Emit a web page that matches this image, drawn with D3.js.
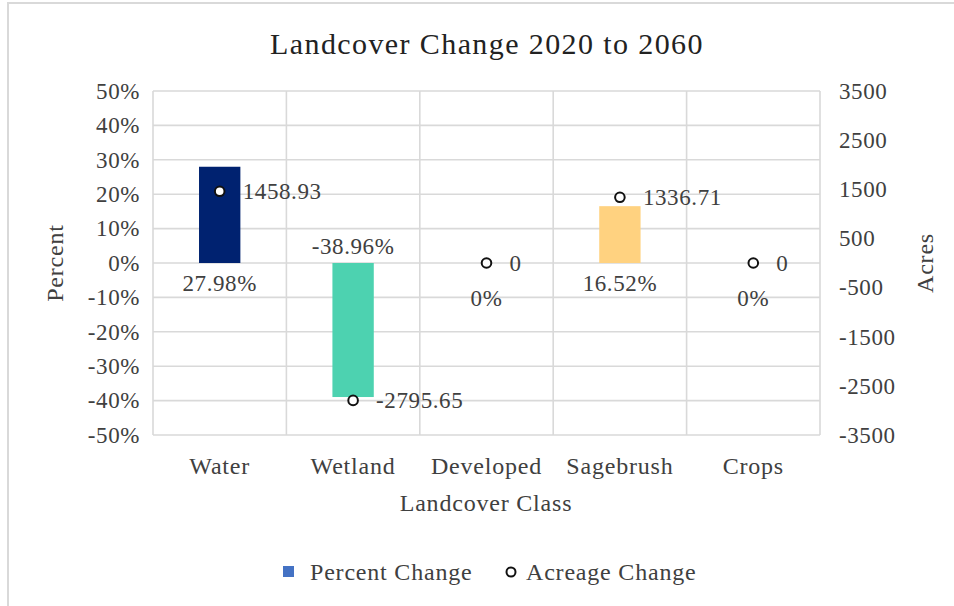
<!DOCTYPE html>
<html>
<head>
<meta charset="utf-8">
<script src="https://cdn.jsdelivr.net/npm/d3@7"></script>
<style>
  html, body { margin: 0; padding: 0; background: #fff; }
  svg { display: block; }
  text { font-family: "Liberation Serif", "DejaVu Serif", serif; fill: #404040; }
</style>
</head>
<body>
<svg id="chart" width="954" height="606"></svg>
<script>
// Landcover classes and their projected change, 2020 -> 2060
const categories = ["Water", "Wetland", "Developed", "Sagebrush", "Crops"];
const percentChange = [27.98, -38.96, 0, 16.52, 0];        // percent
const acreageChange = [1458.93, -2795.65, 0, 1336.71, 0];  // acres
const barColors = ["#002270", "#4dd2b0", "#4472c4", "#ffd280", "#4472c4"];
const percentTicks = [50, 40, 30, 20, 10, 0, -10, -20, -30, -40, -50];
const acreTicks = [3500, 2500, 1500, 500, -500, -1500, -2500, -3500];

const svg = d3.select("#chart");
const W = 954, H = 606;
const plot = { left: 153, right: 820, top: 91, bottom: 435 };

const NUM = { size: 23, spacing: 0.6 };   // numeric labels
const WORD = { size: 24, spacing: 0.8 };  // word labels

function styleText(sel, f) {
  sel.attr("font-size", f.size)
     .attr("letter-spacing", f.spacing)
     .attr("font-family", "Liberation Serif")
     .attr("fill", "#404040");
}
const fmtNum = v => v.toFixed(2).replace(/\.00$/, "");

// Chart frame
svg.append("rect")
  .attr("x", 8).attr("y", 3).attr("width", W + 10).attr("height", H + 10)
  .attr("fill", "#fff").attr("stroke", "#d9d9d9").attr("stroke-width", 2);

const x = d3.scaleBand().domain(categories).range([plot.left, plot.right]).padding(0);
const yPct = d3.scaleLinear().domain([-50, 50]).range([plot.bottom, plot.top]);
const yAcre = d3.scaleLinear().domain([-3500, 3500]).range([plot.bottom, plot.top]);

// Gridlines
const grid = svg.append("g").attr("stroke", "#d9d9d9").attr("stroke-width", 1.6);
grid.selectAll("line.h").data(percentTicks).join("line")
  .attr("x1", plot.left).attr("x2", plot.right)
  .attr("y1", d => yPct(d)).attr("y2", d => yPct(d));
const bounds = categories.map(c => x(c)).concat([plot.right]);
grid.selectAll("line.v").data(bounds).join("line")
  .attr("x1", d => d).attr("x2", d => d)
  .attr("y1", plot.top).attr("y2", plot.bottom);

// Left axis (percent)
const leftAxis = d3.axisLeft(yPct).tickValues(percentTicks)
  .tickFormat(d => d + "%").tickSize(0).tickPadding(13);
const gl = svg.append("g").attr("transform", `translate(${plot.left},0)`).call(leftAxis);
gl.select(".domain").remove();
gl.selectAll("text").call(styleText, NUM);

// Right axis (acres)
const rightAxis = d3.axisRight(yAcre).tickValues(acreTicks)
  .tickFormat(d => String(d)).tickSize(0).tickPadding(19);
const gr = svg.append("g").attr("transform", `translate(${plot.right},0)`).call(rightAxis);
gr.select(".domain").remove();
gr.selectAll("text").call(styleText, NUM);

// Category axis
const bottomAxis = d3.axisBottom(x).tickSize(0).tickPadding(22);
const gb = svg.append("g").attr("transform", `translate(0,${plot.bottom})`).call(bottomAxis);
gb.select(".domain").remove();
gb.selectAll("text").call(styleText, WORD);

// Bars
const barW = x.bandwidth() * 0.31;
const rows = categories.map((c, i) => ({ c, p: percentChange[i], a: acreageChange[i], color: barColors[i] }));
svg.append("g").selectAll("rect").data(rows.filter(d => d.p !== 0)).join("rect")
  .attr("x", d => x(d.c) + x.bandwidth() / 2 - barW / 2)
  .attr("width", barW)
  .attr("y", d => Math.min(yPct(d.p), yPct(0)))
  .attr("height", d => Math.abs(yPct(d.p) - yPct(0)))
  .attr("fill", d => d.color);

// Percent labels near the base of each bar
svg.append("g").selectAll("text").data(rows).join("text")
  .attr("x", d => x(d.c) + x.bandwidth() / 2)
  .attr("y", d => yPct(0) + (d.p > 0 ? 20 : d.p < 0 ? -17 : 35))
  .attr("dy", "0.35em")
  .attr("text-anchor", "middle")
  .call(styleText, NUM)
  .text(d => fmtNum(d.p) + "%");

// Acreage points
svg.append("g").selectAll("circle").data(rows).join("circle")
  .attr("cx", d => x(d.c) + x.bandwidth() / 2)
  .attr("cy", d => yAcre(d.a))
  .attr("r", 4.8)
  .attr("fill", "#fff").attr("stroke", "#111").attr("stroke-width", 2);

svg.append("g").selectAll("text").data(rows).join("text")
  .attr("x", d => x(d.c) + x.bandwidth() / 2 + 23)
  .attr("y", d => yAcre(d.a))
  .attr("dy", "0.35em")
  .call(styleText, NUM)
  .text(d => fmtNum(d.a));

// Titles
svg.append("text").attr("x", 487).attr("y", 43).attr("dy", "0.35em")
  .attr("text-anchor", "middle").attr("font-size", 30).attr("letter-spacing", 1.4)
  .style("fill", "#222")
  .text("Landcover Change 2020 to 2060");
svg.append("text").attr("transform", `translate(55,${yPct(0)}) rotate(-90)`)
  .attr("dy", "0.35em").attr("text-anchor", "middle").call(styleText, WORD)
  .text("Percent");
svg.append("text").attr("transform", `translate(925,${yPct(0)}) rotate(-90)`)
  .attr("dy", "0.35em").attr("text-anchor", "middle").call(styleText, WORD)
  .text("Acres");
svg.append("text").attr("x", 486).attr("y", 503).attr("dy", "0.35em")
  .attr("text-anchor", "middle").call(styleText, WORD)
  .text("Landcover Class");

// Legend
const legend = svg.append("g");
legend.append("rect").attr("x", 283).attr("y", 566).attr("width", 11).attr("height", 11).attr("fill", "#4472c4");
legend.append("text").attr("x", 310).attr("y", 572).attr("dy", "0.35em").call(styleText, WORD).text("Percent Change");
legend.append("circle").attr("cx", 511).attr("cy", 572).attr("r", 4.5)
  .attr("fill", "#fff").attr("stroke", "#111").attr("stroke-width", 2);
legend.append("text").attr("x", 526).attr("y", 572).attr("dy", "0.35em").call(styleText, WORD).text("Acreage Change");
</script>
</body>
</html>
